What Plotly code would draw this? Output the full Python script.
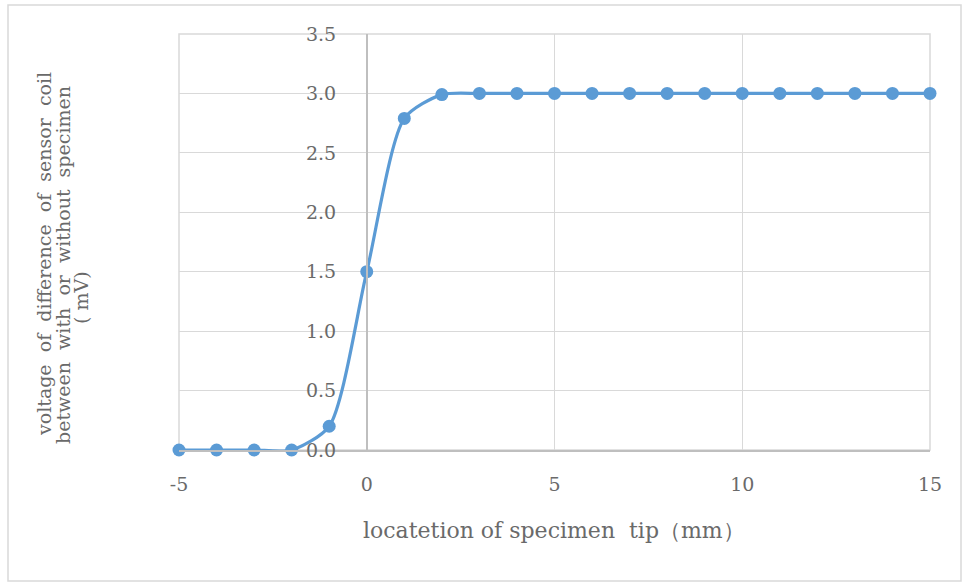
import plotly.graph_objects as go

# Data
x_mm = [-5, -4, -3, -2, -1, 0, 1, 2, 3, 4, 5, 6, 7, 8, 9, 10, 11, 12, 13, 14, 15]
voltage_mV = [0.0, 0.0, 0.0, 0.0, 0.2, 1.5, 2.79, 2.99, 3.0, 3.0, 3.0, 3.0, 3.0, 3.0,
              3.0, 3.0, 3.0, 3.0, 3.0, 3.0, 3.0]
x_ticks = [-5, 0, 5, 10, 15]
x_tick_text = ["-5", "0", "5", "10", "15"]
y_ticks = [0.0, 0.5, 1.0, 1.5, 2.0, 2.5, 3.0, 3.5]
x_title = "locatetion of specimen  tip（mm）"
y_title_lines = ["voltage  of  difference  of  sensor  coil",
                 "between  with  or  without  specimen",
                 "( mV)"]

W, H = 966, 583
L, R, T, B = 179, 36, 34, 133
pw, ph = W - L - R, H - T - B

def px_x(px):
    return (px - L) / pw

def px_y(py):
    return (H - B - py) / ph

FONT = "DejaVu Serif"
TXT = "#6a6a6a"
GRID = "#d9d9d9"
AX = "#bfbfbf"
BLUE = "#5b9bd5"

fig = go.Figure()
fig.add_trace(go.Scatter(
    x=x_mm, y=voltage_mV, mode="lines+markers",
    line=dict(color=BLUE, width=3.2, shape="spline", smoothing=0.7),
    marker=dict(color=BLUE, size=13),
    cliponaxis=False,
    showlegend=False, hoverinfo="x+y",
))

fig.update_layout(
    width=W, height=H,
    margin=dict(l=L, r=R, t=T, b=B),
    paper_bgcolor="white", plot_bgcolor="white",
    font=dict(family=FONT, color=TXT, size=19),
    xaxis=dict(range=[-5, 15], tickvals=x_ticks, ticktext=x_tick_text, showgrid=True,
               gridcolor=GRID, gridwidth=1, zeroline=False, showline=True, linecolor=AX,
               linewidth=1.5, ticks="", ticklabelstandoff=16,
               tickfont=dict(family=FONT, size=19, color=TXT)),
    yaxis=dict(range=[0, 3.5], tickvals=y_ticks, tickformat=".1f", showgrid=True,
               gridcolor=GRID, gridwidth=1, zeroline=False, anchor="free",
               position=0.25, showline=True, linecolor=AX, linewidth=1.5,
               ticks="", ticklabelstandoff=26,
               tickfont=dict(family=FONT, size=19, color=TXT)),
)

# plot-area border (gridlines at range edges)
fig.add_shape(type="rect", xref="paper", yref="paper", x0=0, x1=1, y0=0, y1=1,
              line=dict(color=GRID, width=1.5), fillcolor="rgba(0,0,0,0)", layer="below")

# outer chart frame
fig.add_shape(type="rect", xref="paper", yref="paper",
              x0=px_x(8), x1=px_x(961), y0=px_y(581), y1=px_y(5),
              line=dict(color=GRID, width=1.5), fillcolor="rgba(0,0,0,0)", layer="below")

# x-axis title
fig.add_annotation(text=x_title, xref="paper", yref="paper", x=px_x(554), y=px_y(530),
                   showarrow=False, xanchor="center", yanchor="middle",
                   font=dict(family=FONT, size=22, color=TXT))

# y-axis title lines
for line, cx, cy in zip(y_title_lines, [44, 63, 81], [254, 265, 298]):
    fig.add_annotation(text=line, xref="paper", yref="paper", x=px_x(cx), y=px_y(cy),
                       showarrow=False, textangle=-90, xanchor="center", yanchor="middle",
                       font=dict(family=FONT, size=19, color=TXT))

fig.write_html("out.html", config={"displayModeBar": False},
               post_script="document.body.style.margin='0';")
